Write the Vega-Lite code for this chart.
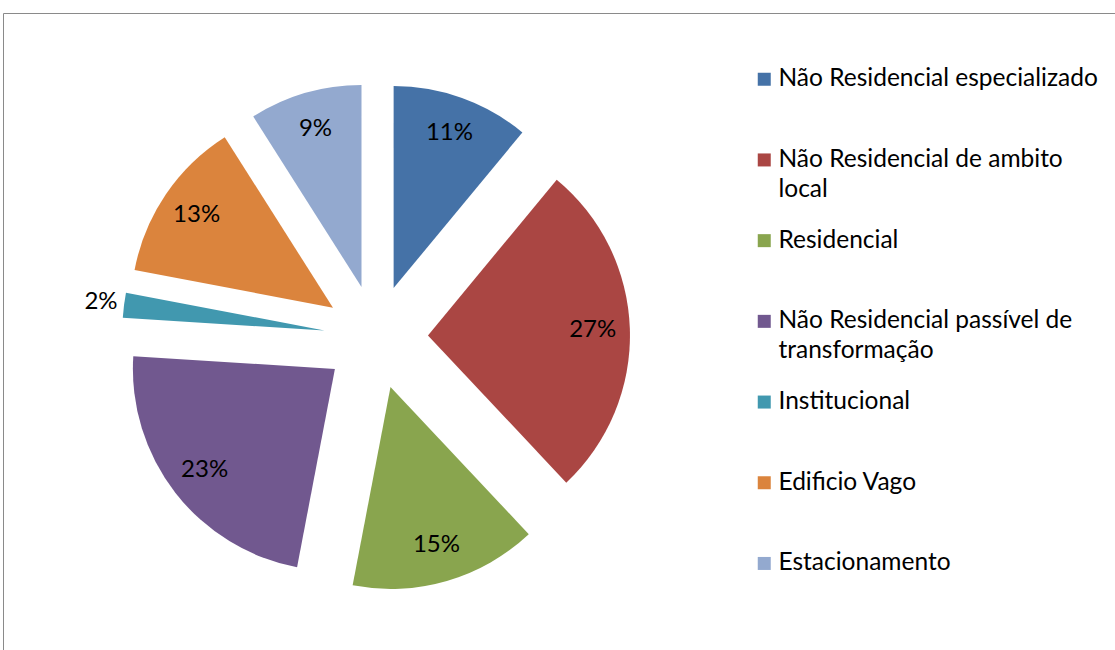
{
  "$schema": "https://vega.github.io/schema/vega-lite/v6.json",
  "width": 1112,
  "height": 637,
  "autosize": "none",
  "padding": {"left": 3, "top": 13, "right": 0, "bottom": 0},
  "background": "white",
  "config": {
    "view": {"stroke": "#8a8a8a", "strokeWidth": 1},
    "style": {"guide-label": {"lineHeight": 30}}
  },
  "data": {
    "values": [
      {"order": 1, "cat": "Não Residencial especializado", "value": 11},
      {"order": 2, "cat": "Não Residencial de ambito local", "value": 27},
      {"order": 3, "cat": "Residencial", "value": 15},
      {"order": 4, "cat": "Não Residencial passível de transformação", "value": 23},
      {"order": 5, "cat": "Institucional", "value": 2},
      {"order": 6, "cat": "Edificio Vago", "value": 13},
      {"order": 7, "cat": "Estacionamento", "value": 9}
    ]
  },
  "transform": [
    {"window": [{"op": "sum", "field": "value", "as": "cum"}], "sort": [{"field": "order"}], "frame": [null, 0]},
    {"calculate": "datum.cum - datum.value", "as": "start"},
    {"calculate": "(datum.cum - datum.value / 2) * 2 * PI / 100", "as": "mid"},
    {"calculate": "sin(datum.mid)", "as": "ex"},
    {"calculate": "cos(datum.mid)", "as": "ey"},
    {"calculate": "datum.value < 5 ? 5.33 : 4.17", "as": "ld"},
    {"calculate": "datum.ex * datum.ld", "as": "lx"},
    {"calculate": "datum.ey * datum.ld", "as": "ly"},
    {"calculate": "datum.value + '%'", "as": "pct"}
  ],
  "layer": [
    {
      "mark": {"type": "arc", "radius": 202},
      "encoding": {
        "theta": {"field": "start", "type": "quantitative", "stack": null, "scale": {"domain": [0, 100], "range": [0, 6.283185307179586]}},
        "theta2": {"field": "cum"},
        "x": {"field": "ex", "type": "quantitative", "axis": null, "scale": {"domain": [-7.173, 14.212], "nice": false, "zero": false}},
        "y": {"field": "ey", "type": "quantitative", "axis": null, "scale": {"domain": [-6.019, 6.231], "nice": false, "zero": false}},
        "color": {
          "field": "cat",
          "type": "nominal",
          "scale": {
            "domain": ["Não Residencial especializado", "Não Residencial de ambito local", "Residencial", "Não Residencial passível de transformação", "Institucional", "Edificio Vago", "Estacionamento"],
            "range": ["#4572A7", "#AA4643", "#89A54E", "#71588F", "#4198AF", "#DB843D", "#93A9CF"]
          },
          "legend": {
            "orient": "none",
            "legendX": 749,
            "legendY": 54,
            "title": null,
            "padding": 0,
            "symbolType": "square",
            "symbolSize": 169,
            "symbolStrokeWidth": 0,
            "labelFont": "Lato",
            "labelFontSize": 24.5,
            "labelColor": "#000000",
            "labelLimit": 400,
            "labelOffset": 2,
            "rowPadding": 25.7,
            "gridAlign": "all",
            "labelExpr": "datum.label == 'Não Residencial de ambito local' ? ['Não Residencial de ambito', 'local'] : datum.label == 'Não Residencial passível de transformação' ? ['Não Residencial passível de', 'transformação'] : datum.label"
          }
        }
      }
    },
    {
      "mark": {"type": "text", "font": "Lato", "fontSize": 24, "color": "#000000", "align": "center", "baseline": "middle"},
      "encoding": {
        "x": {"field": "lx", "type": "quantitative"},
        "y": {"field": "ly", "type": "quantitative"},
        "text": {"field": "pct", "type": "nominal"}
      }
    }
  ]
}
